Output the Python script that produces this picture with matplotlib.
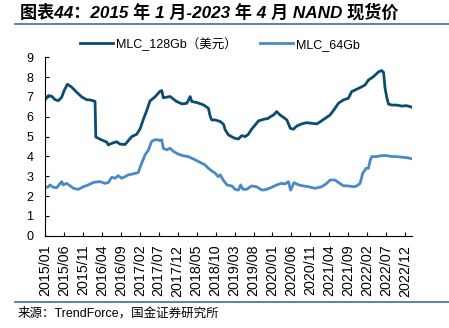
import matplotlib
matplotlib.use("Agg")
import matplotlib.pyplot as plt
from matplotlib.lines import Line2D

plt.rcParams["font.family"] = ["Liberation Sans", "Noto Sans CJK SC"]

# months since 2015/01 and spot price (USD)
m128 = [0, 0.9, 1.8, 2.6, 3.5, 4.4, 5.0, 5.9, 7.0, 8.4, 9.7, 11.0, 11.9, 13.2,
        13.4, 14.5, 15.8, 16.3, 16.7, 17.6, 18.9, 19.8, 21.1, 22.0, 22.9, 24.2,
        25.1, 25.9, 26.8, 27.7, 29.0, 30.3, 30.8, 31.2, 32.1, 33.0, 33.9, 34.7,
        36.1, 37.4, 38.3, 38.7, 40.0, 41.8, 43.1, 43.6, 44.0, 44.9, 46.2, 47.1,
        47.5, 48.4, 49.2, 50.1, 51.0, 51.9, 52.8, 53.6, 54.5, 55.4, 56.3, 57.6,
        58.9, 59.4, 60.3, 61.1, 62.0, 62.9, 63.8, 64.7, 65.5, 66.4, 67.7, 69.0,
        70.4, 71.7, 72.6, 73.9, 75.2, 76.5, 77.4, 78.7, 80.0, 80.9, 81.8, 83.1,
        84.4, 85.3, 86.6, 88.0, 88.8, 89.3, 89.7, 90.2, 90.6, 91.5, 92.8, 94.1,
        95.4, 96.3, 97.0]
mlc_128 = [6.85, 7.07, 7.03, 6.87, 6.81, 6.98, 7.30, 7.64, 7.50, 7.23, 7.00, 6.86, 6.85, 6.78,
           4.98, 4.87, 4.76, 4.72, 4.58, 4.66, 4.74, 4.62, 4.60, 4.80, 5.00, 5.12,
           5.40, 5.85, 6.30, 6.80, 7.00, 7.28, 7.32, 6.96, 6.99, 7.02, 6.89, 6.77,
           6.65, 6.68, 7.02, 6.77, 6.72, 6.60, 6.43, 6.00, 5.84, 5.84, 5.76, 5.62,
           5.35, 5.08, 5.00, 4.91, 4.88, 5.05, 5.00, 5.11, 5.37, 5.58, 5.79, 5.87,
           5.92, 6.00, 6.09, 6.26, 6.09, 5.97, 5.84, 5.42, 5.37, 5.53, 5.64, 5.70,
           5.67, 5.64, 5.75, 5.92, 6.09, 6.43, 6.68, 6.85, 6.93, 7.27, 7.35, 7.47,
           7.60, 7.85, 8.02, 8.27, 8.33, 8.24, 7.43, 6.93, 6.64, 6.59, 6.59, 6.54,
           6.56, 6.51, 6.46]

m64 = [0, 0.9, 1.3, 2.2, 3.1, 4.0, 4.4, 4.8, 5.7, 6.6, 7.5, 8.8, 10.1, 11.4,
       12.8, 14.5, 15.8, 16.7, 17.6, 18.5, 19.3, 20.2, 21.1, 22.0, 23.3, 24.6,
       25.5, 26.4, 27.3, 28.1, 29.0, 29.9, 30.3, 30.8, 31.2, 32.1, 33.0, 33.9,
       35.2, 36.5, 37.8, 38.7, 40.0, 41.3, 42.2, 43.1, 44.0, 44.9, 45.7, 46.2,
       47.1, 48.0, 49.3, 50.1, 51.0, 51.6, 52.2, 53.2, 54.5, 55.8, 57.2, 58.5,
       59.8, 61.1, 62.4, 63.3, 64.2, 64.8, 65.7, 66.9, 68.2, 69.5, 71.2, 73.0,
       74.3, 75.2, 76.5, 77.4, 78.7, 80.0, 81.4, 82.2, 83.1, 83.8, 84.7, 85.3,
       85.8, 86.2, 87.5, 88.8, 90.2, 91.5, 92.8, 94.1, 95.4, 97.0]
mlc_64 = [2.42, 2.47, 2.56, 2.44, 2.42, 2.64, 2.73, 2.56, 2.64, 2.52, 2.39, 2.34, 2.47, 2.56,
          2.69, 2.73, 2.64, 2.68, 2.95, 2.90, 3.03, 2.90, 2.98, 3.07, 3.12, 3.19,
          3.66, 4.08, 4.33, 4.75, 4.84, 4.84, 4.79, 4.84, 4.41, 4.33, 4.41, 4.25,
          4.11, 4.03, 3.99, 3.91, 3.79, 3.66, 3.57, 3.40, 3.27, 3.15, 2.98, 3.07,
          2.78, 2.56, 2.51, 2.34, 2.30, 2.56, 2.34, 2.34, 2.51, 2.47, 2.30, 2.34,
          2.44, 2.56, 2.64, 2.61, 2.73, 2.30, 2.68, 2.56, 2.51, 2.47, 2.39, 2.47,
          2.64, 2.81, 2.81, 2.68, 2.52, 2.51, 2.47, 2.51, 2.64, 3.15, 3.40, 3.40,
          3.82, 3.99, 3.99, 4.04, 4.04, 3.99, 3.99, 3.96, 3.94, 3.87]

tick_months = list(range(0, 96, 5))
tick_labels = ["2015/01", "2015/06", "2015/11", "2016/04", "2016/09", "2017/02",
               "2017/07", "2017/12", "2018/05", "2018/10", "2019/03", "2019/08",
               "2020/01", "2020/06", "2020/11", "2021/04", "2021/09", "2022/02",
               "2022/07", "2022/12"]

DARK = "#0b4c70"
LIGHT = "#4a88c7"
RULE = "#3e6e9a"

fig = plt.figure(figsize=(4.49, 3.28), dpi=100)
ax = fig.add_axes([45 / 449, 1 - 235.7 / 328, 367 / 449, 178.4 / 328])

ax.plot(m128, mlc_128, color=DARK, lw=2.0, label="MLC_128Gb（美元）")
ax.plot(m64, mlc_64, color=LIGHT, lw=2.0, label="MLC_64Gb")

ax.set_xlim(0, 96.8)
ax.set_ylim(0, 9)
ax.set_yticks(range(0, 10))
ax.set_xticks(tick_months)
ax.set_xticklabels(tick_labels, rotation=90, fontsize=10.3)
ax.tick_params(axis="y", direction="in", length=3, width=0.8, pad=8.5, labelsize=9)
ax.tick_params(axis="x", direction="in", length=3, width=0.8, pad=6.5)
for side in ("top", "right"):
    ax.spines[side].set_visible(False)
for side in ("left", "bottom"):
    ax.spines[side].set_linewidth(0.8)

fig.legend(loc="center left", bbox_to_anchor=(80 / 449, 1 - 44 / 328), ncol=2,
           frameon=False, fontsize=9, handlelength=2.6, handletextpad=0.25,
           columnspacing=1.9, borderpad=0, borderaxespad=0)

fig.text(20 / 449, 1 - 12 / 328, "图表44：2015 年 1 月-2023 年 4 月 NAND 现货价",
         fontsize=12.3, weight="bold", style="italic", va="center", ha="left")
fig.add_artist(Line2D([15 / 449, 1], [1 - 24.3 / 328] * 2, color=RULE, lw=1.2))
fig.add_artist(Line2D([15 / 449, 1], [1 - 301.7 / 328] * 2, color=RULE, lw=1.2))
fig.text(18 / 449, 1 - 313 / 328, "来源：TrendForce，国金证券研究所",
         fontsize=9, va="center", ha="left")

fig.savefig("out.png", dpi=100)
